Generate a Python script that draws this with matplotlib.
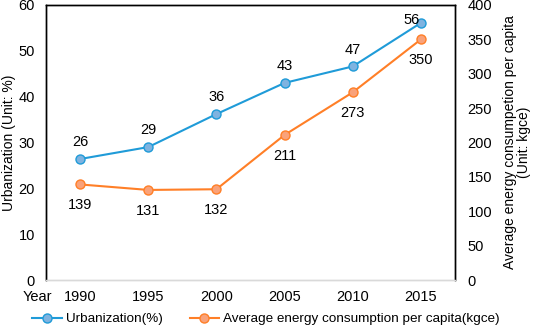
import matplotlib
matplotlib.use("Agg")
import matplotlib.pyplot as plt

plt.rcParams['font.family'] = ['Liberation Sans', 'DejaVu Sans']

years = ["1990", "1995", "2000", "2005", "2010", "2015"]
urban = [26.4, 29.0, 36.2, 43.0, 46.6, 56.1]
urban_labels = ["26", "29", "36", "43", "47", "56"]
energy = [139, 131, 132, 211, 273, 350]
energy_labels = ["139", "131", "132", "211", "273", "350"]

BLUE = "#1f9bd8"
BLUE_FILL = "#7fb3e0"
ORANGE = "#ff7f27"
ORANGE_FILL = "#f9a27a"
FS = 10.5

fig = plt.figure(figsize=(5.33, 3.29), dpi=100)
ax = fig.add_axes([46/533, 1-280/329, 409/533, 275/329])
ax2 = ax.twinx()

x = list(range(len(years)))
l1, = ax.plot(x, urban, color=BLUE, lw=1.5, marker="o", ms=6.5,
              mfc=BLUE_FILL, mec=BLUE, mew=1.0, label="Urbanization(%)")
l2, = ax2.plot(x, energy, color=ORANGE, lw=1.5, marker="o", ms=6.5,
               mfc=ORANGE_FILL, mec=ORANGE, mew=1.0,
               label="Average energy consumption per capita(kgce)")

# data labels: urbanization above, energy below
for i, (v, t) in enumerate(zip(urban, urban_labels)):
    off = (-7, -3) if i == len(x) - 1 else (0, 7)
    ax.annotate(t, (i, v), xytext=off, textcoords="offset points",
                ha="center", va="bottom", fontsize=FS)
for i, (v, t) in enumerate(zip(energy, energy_labels)):
    ax2.annotate(t, (i, v), xytext=(0, -10), textcoords="offset points",
                 ha="center", va="top", fontsize=FS)

ax.set_xlim(-0.5, len(x) - 0.5)
ax.set_ylim(0, 60)
ax2.set_ylim(0, 400)
ax.set_yticks(range(0, 61, 10))
ax2.set_yticks(range(0, 401, 50))
ax.set_xticks(x)
ax.set_xticklabels(years)

for a in (ax, ax2):
    a.tick_params(length=0, labelsize=FS)
    for s in a.spines.values():
        s.set_color("black")
        s.set_linewidth(1.0)
    a.spines["bottom"].set_color("#d9d9d9")
ax.tick_params(axis="y", pad=8)
ax2.tick_params(axis="y", pad=9)
ax.tick_params(axis="x", pad=7)

ax.set_ylabel("Urbanization (Unit: %)", fontsize=10, labelpad=2)
ax2.set_ylabel("Average energy consumpetion per capita\n(Unit: kgce)",
               fontsize=10, labelpad=8, linespacing=1.0)

fig.text(37/533, 1-297/329, "Year", fontsize=FS, ha="center", va="center")

fig.legend(handles=[l1, l2], loc="center", bbox_to_anchor=(266/533, 1-319/329),
           ncol=2, frameon=False, fontsize=9.7, handlelength=2.2,
           columnspacing=2.0, handletextpad=0.3, borderaxespad=0)

fig.savefig("out.png", dpi=100)
